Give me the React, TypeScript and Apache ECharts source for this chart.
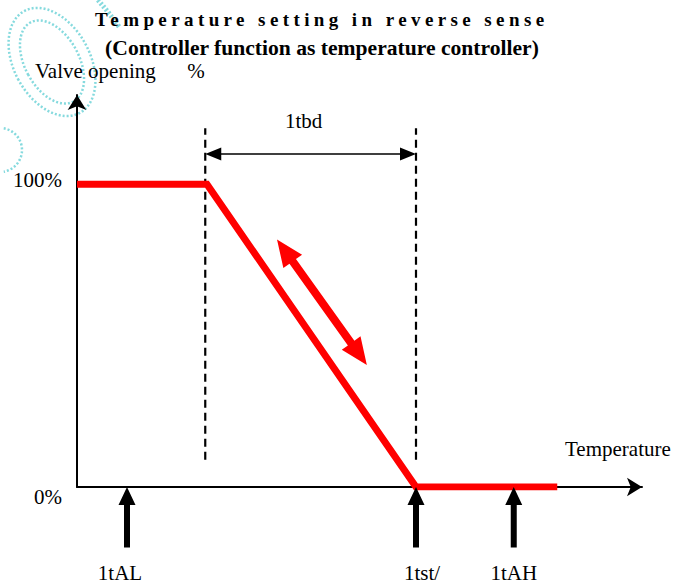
import { useEffect, useRef } from 'react';
import * as echarts from 'echarts';

const titleText = 'Temperature setting in reverse sense';
const subtitleText = '(Controller function as temperature controller)';
const yName = 'Valve opening      %';
const xName = 'Temperature';

// valve opening curve (reverse acting)
const valveX = [0, 23, 60, 85];
const valveY = [100, 100, 0, 0];

// proportional band boundaries (dashed)
const bandX = [22.7, 60];
const bandY = [9, 118.5];
const bandArrowY = 110;
const bandLabel = '1tbd';

// red movement arrow
const moveArrowX = [35.4, 51.3];
const moveArrowY = [81.8, 40.3];

// markers under the temperature axis
const markerX = [8.85, 60, 77.3];
const markerLabels = ['1tAL', '1tst/', '1tAH'];
const markerFromY = -20;
const markerToY = 0;

const yTickValues = [0, 100];
const yTickLabels = ['0%', '100%'];

const FONT = '"Liberation Serif", "Times New Roman", serif';

function arrowPoints(
  p1: number[],
  p2: number[],
  headLen: number,
  headW: number,
  shaftW: number,
  double: boolean
): number[][] {
  const dx = p2[0] - p1[0];
  const dy = p2[1] - p1[1];
  const len = Math.sqrt(dx * dx + dy * dy) || 1;
  const ux = dx / len;
  const uy = dy / len;
  const nx = -uy;
  const ny = ux;
  const b2 = [p2[0] - ux * headLen, p2[1] - uy * headLen];
  const off = (p: number[], w: number) => [p[0] + nx * w, p[1] + ny * w];
  if (double) {
    const b1 = [p1[0] + ux * headLen, p1[1] + uy * headLen];
    return [
      p1,
      off(b1, headW / 2),
      off(b1, shaftW / 2),
      off(b2, shaftW / 2),
      off(b2, headW / 2),
      p2,
      off(b2, -headW / 2),
      off(b2, -shaftW / 2),
      off(b1, -shaftW / 2),
      off(b1, -headW / 2),
    ];
  }
  return [
    off(p1, shaftW / 2),
    off(b2, shaftW / 2),
    off(b2, headW / 2),
    p2,
    off(b2, -headW / 2),
    off(b2, -shaftW / 2),
    off(p1, -shaftW / 2),
  ];
}

function arrowSeries(
  data: number[][],
  color: string,
  headLen: number,
  headW: number,
  shaftW: number,
  double: boolean,
  label?: string
): any {
  return {
    type: 'custom',
    silent: true,
    clip: false,
    z: 5,
    data,
    renderItem: (_params: any, api: any) => {
      const p1 = api.coord([api.value(0), api.value(1)]);
      const p2 = api.coord([api.value(2), api.value(3)]);
      const children: any[] = [
        {
          type: 'polygon',
          shape: { points: arrowPoints(p1, p2, headLen, headW, shaftW, double) },
          style: { fill: color },
        },
      ];
      if (label) {
        children.push({
          type: 'text',
          x: (p1[0] + p2[0]) / 2 - 7,
          y: p1[1] - 33,
          style: {
            text: label,
            fill: '#000',
            font: `21px ${FONT}`,
            align: 'center',
            verticalAlign: 'middle',
          },
        });
      }
      return { type: 'group', children };
    },
  };
}

export default function App() {
  const ref = useRef<HTMLDivElement>(null);

  useEffect(() => {
    if (!ref.current) return;
    const chart = echarts.init(ref.current, undefined, { renderer: 'svg' });

    const dashedSeries = bandX.map((x) => ({
      type: 'line',
      silent: true,
      symbol: 'none',
      data: [
        [x, bandY[0]],
        [x, bandY[1]],
      ],
      lineStyle: { color: '#000', width: 2.2, type: [8, 5] },
      z: 2,
    }));

    const labelStyle = { fontSize: 21, fontFamily: FONT, color: '#000' };
    const wm = { fill: 'none', stroke: '#86dade', lineWidth: 2.5, lineDash: [2, 2] };

    const option: any = {
      animation: false,
      backgroundColor: '#fff',
      grid: { left: 77, right: 49, top: 95, bottom: 96, containLabel: false },
      xAxis: {
        type: 'value',
        min: 0,
        max: 100,
        axisLine: {
          show: true,
          symbol: ['none', 'arrow'],
          symbolSize: [14, 15],
          lineStyle: { color: '#000', width: 2 },
        },
        axisTick: { show: false },
        splitLine: { show: false },
        axisLabel: {
          show: true,
          customValues: markerX,
          margin: 75,
          color: '#000',
          fontSize: 21,
          fontFamily: FONT,
          formatter: (v: number) => {
            const i = markerX.findIndex((m) => Math.abs(m - v) < 1e-6);
            return i >= 0 ? `{m${i}|${markerLabels[i]}}` : '';
          },
          rich: {
            m0: { ...labelStyle, padding: [0, 14, 0, 0] },
            m1: { ...labelStyle, padding: [0, 0, 0, 12] },
            m2: { ...labelStyle },
          },
        },
      },
      yAxis: {
        type: 'value',
        min: 0,
        max: 129.5,
        interval: 100,
        axisLine: {
          show: true,
          symbol: ['none', 'arrow'],
          symbolSize: [14, 15],
          lineStyle: { color: '#000', width: 2 },
        },
        axisTick: { show: false },
        splitLine: { show: false },
        axisLabel: {
          margin: 15,
          color: '#000',
          fontSize: 21,
          fontFamily: FONT,
          formatter: (v: number) => {
            const i = yTickValues.indexOf(v);
            if (i < 0) return '';
            return i === 0 ? `{lo|${yTickLabels[i]}}` : `{hi|${yTickLabels[i]}}`;
          },
          rich: {
            lo: { ...labelStyle, padding: [20, 0, 0, 0] },
            hi: { ...labelStyle, padding: [0, 0, 8, 0] },
          },
        },
      },
      graphic: [
        {
          type: 'group',
          silent: true,
          z: -10,
          children: [
            {
              type: 'ellipse',
              x: 52,
              y: 62,
              rotation: 0.5,
              shape: { cx: 0, cy: 0, rx: 38, ry: 58 },
              style: wm,
            },
            {
              type: 'ellipse',
              x: 52,
              y: 62,
              rotation: 0.5,
              shape: { cx: 0, cy: 0, rx: 27, ry: 45 },
              style: wm,
            },
            {
              type: 'arc',
              x: 0,
              y: 150,
              shape: { cx: 0, cy: 0, r: 22, startAngle: -1.4, endAngle: 1.4 },
              style: wm,
            },
            {
              type: 'polyline',
              shape: { points: [[98, 0], [108, 12], [120, 28]] },
              style: { ...wm, lineWidth: 5 },
            },
          ],
        },
        {
          type: 'text',
          x: 95,
          y: 19,
          silent: true,
          style: {
            text: titleText,
            font: `bold 19px ${FONT}`,
            fill: '#000',
            align: 'left',
            verticalAlign: 'middle',
          },
        },
        {
          type: 'text',
          x: 322,
          y: 48,
          silent: true,
          style: {
            text: subtitleText,
            font: `bold 21.6px ${FONT}`,
            fill: '#000',
            align: 'center',
            verticalAlign: 'middle',
          },
        },
        {
          type: 'text',
          x: 35,
          y: 71,
          silent: true,
          style: {
            text: yName,
            font: `21px ${FONT}`,
            fill: '#000',
            align: 'left',
            verticalAlign: 'middle',
          },
        },
        {
          type: 'text',
          x: 565,
          y: 449,
          silent: true,
          style: {
            text: xName,
            font: `21px ${FONT}`,
            fill: '#000',
            align: 'left',
            verticalAlign: 'middle',
          },
        },
      ],
      series: [
        ...dashedSeries,
        {
          type: 'line',
          silent: true,
          symbol: 'none',
          data: valveX.map((x, i) => [x, valveY[i]]),
          lineStyle: { color: '#ff0000', width: 7, join: 'miter' },
          z: 3,
        },
        arrowSeries(
          [[moveArrowX[0], moveArrowY[0], moveArrowX[1], moveArrowY[1]]],
          '#ff0000',
          27,
          23,
          8,
          true
        ),
        arrowSeries(
          [[bandX[0], bandArrowY, bandX[1], bandArrowY]],
          '#000',
          16,
          13,
          1.6,
          true,
          bandLabel
        ),
        arrowSeries(
          markerX.map((x) => [x, markerFromY, x, markerToY]),
          '#000',
          18,
          17,
          6,
          false
        ),
      ],
    };

    chart.setOption(option);

    const applySpacing = () => {
      const texts = ref.current ? ref.current.querySelectorAll('text') : [];
      texts.forEach((t: any) => {
        if (t.textContent === titleText) {
          t.setAttribute('letter-spacing', '4.4');
        }
      });
    };
    applySpacing();
    chart.on('finished', applySpacing);

    return () => {
      chart.dispose();
    };
  }, []);

  return <div ref={ref} style={{ width: 691, height: 583, position: 'absolute', left: 0, top: 0 }} />;
}
